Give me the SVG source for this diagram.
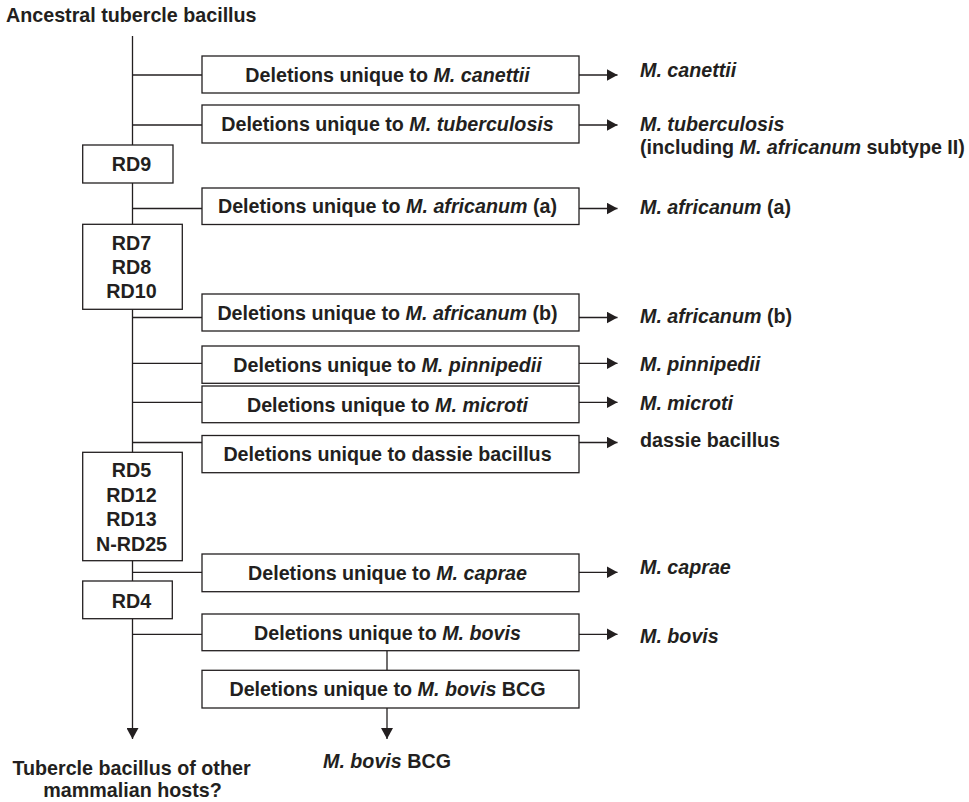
<svg xmlns="http://www.w3.org/2000/svg" width="969" height="802" viewBox="0 0 969 802">
<style>
text{font-family:"Liberation Sans",Arial,Helvetica,sans-serif;font-weight:bold;font-size:19.7px;fill:#231f20}
.c{text-anchor:middle}
.i{font-style:italic}
.box{fill:#fff;stroke:#231f20;stroke-width:1.3}
.ln{fill:none;stroke:#231f20;stroke-width:1.3}
</style>
<defs>
<marker id="ah" viewBox="0 0 11 12" refX="11" refY="6" markerWidth="11" markerHeight="12" orient="auto" markerUnits="userSpaceOnUse">
<path d="M0,0 L11,6 L0,12 z" fill="#231f20"/>
</marker>
</defs>

<text id="title" x="6" y="21.7">Ancestral tubercle bacillus</text>

<g id="connectors">
<line class="ln" x1="132.5" y1="36" x2="132.5" y2="739" marker-end="url(#ah)"/>
<line class="ln" x1="132.5" y1="75" x2="202" y2="75"/>
<line class="ln" x1="132.5" y1="125" x2="202" y2="125"/>
<line class="ln" x1="132.5" y1="208.5" x2="202" y2="208.5"/>
<line class="ln" x1="132.5" y1="317.5" x2="202" y2="317.5"/>
<line class="ln" x1="132.5" y1="363.3" x2="202" y2="363.3"/>
<line class="ln" x1="132.5" y1="402.3" x2="202" y2="402.3"/>
<line class="ln" x1="132.5" y1="442.5" x2="202" y2="442.5"/>
<line class="ln" x1="132.5" y1="572.3" x2="202" y2="572.3"/>
<line class="ln" x1="132.5" y1="634.3" x2="202" y2="634.3"/>
<line class="ln" x1="579" y1="75" x2="617.5" y2="75" marker-end="url(#ah)"/>
<line class="ln" x1="579" y1="125" x2="617.5" y2="125" marker-end="url(#ah)"/>
<line class="ln" x1="579" y1="208.5" x2="617.5" y2="208.5" marker-end="url(#ah)"/>
<line class="ln" x1="579" y1="317.5" x2="617.5" y2="317.5" marker-end="url(#ah)"/>
<line class="ln" x1="579" y1="363.3" x2="617.5" y2="363.3" marker-end="url(#ah)"/>
<line class="ln" x1="579" y1="402.3" x2="617.5" y2="402.3" marker-end="url(#ah)"/>
<line class="ln" x1="579" y1="442.5" x2="617.5" y2="442.5" marker-end="url(#ah)"/>
<line class="ln" x1="579" y1="572.3" x2="617.5" y2="572.3" marker-end="url(#ah)"/>
<line class="ln" x1="579" y1="634.3" x2="617.5" y2="634.3" marker-end="url(#ah)"/>
<line class="ln" x1="387" y1="650.7" x2="387" y2="670.3"/>
<line class="ln" x1="387" y1="708" x2="387" y2="739" marker-end="url(#ah)"/>
</g>

<g id="rd9"><rect class="box" x="82.7" y="145" width="90.3" height="38"/><text class="c" x="131.5" y="171">RD9</text></g>
<g id="rd7-8-10"><rect class="box" x="82.7" y="224.3" width="99.6" height="85"/>
<text class="c" x="131.5" y="250">RD7</text><text class="c" x="131.5" y="274">RD8</text><text class="c" x="131.5" y="298">RD10</text></g>
<g id="rd5-12-13-25"><rect class="box" x="82.7" y="452.3" width="99.6" height="108.4"/>
<text class="c" x="131.5" y="477">RD5</text><text class="c" x="131.5" y="501.5">RD12</text><text class="c" x="131.5" y="526">RD13</text><text class="c" x="131.5" y="550.5">N-RD25</text></g>
<g id="rd4"><rect class="box" x="82.7" y="581" width="89.6" height="37.7"/><text class="c" x="131.5" y="608.3">RD4</text></g>

<g id="del-canettii"><rect class="box" x="202" y="56" width="377" height="37"/><text class="c" x="387.5" y="81.5">Deletions unique to <tspan class="i">M. canettii</tspan></text></g>
<g id="del-tuberculosis"><rect class="box" x="202" y="105" width="377" height="38"/><text class="c" x="387.5" y="131">Deletions unique to <tspan class="i">M. tuberculosis</tspan></text></g>
<g id="del-africanum-a"><rect class="box" x="202" y="188" width="377" height="36.5"/><text class="c" x="387.5" y="213.3">Deletions unique to <tspan class="i">M. africanum</tspan> (a)</text></g>
<g id="del-africanum-b"><rect class="box" x="202" y="294" width="377" height="37"/><text class="c" x="387.5" y="319.5">Deletions unique to <tspan class="i">M. africanum</tspan> (b)</text></g>
<g id="del-pinnipedii"><rect class="box" x="202" y="346" width="377" height="37.3"/><text class="c" x="387.5" y="372">Deletions unique to <tspan class="i">M. pinnipedii</tspan></text></g>
<g id="del-microti"><rect class="box" x="202" y="386" width="377" height="36.7"/><text class="c" x="387.5" y="411.5">Deletions unique to <tspan class="i">M. microti</tspan></text></g>
<g id="del-dassie"><rect class="box" x="202" y="435.5" width="377" height="37.2"/><text class="c" x="387.5" y="461">Deletions unique to dassie bacillus</text></g>
<g id="del-caprae"><rect class="box" x="202" y="554" width="377" height="37.7"/><text class="c" x="387.5" y="580">Deletions unique to <tspan class="i">M. caprae</tspan></text></g>
<g id="del-bovis"><rect class="box" x="202" y="614" width="377" height="36.7"/><text class="c" x="387.5" y="639.5">Deletions unique to <tspan class="i">M. bovis</tspan></text></g>
<g id="del-bcg"><rect class="box" x="202" y="670.3" width="377" height="37.7"/><text class="c" x="387.5" y="696">Deletions unique to <tspan class="i">M. bovis</tspan> BCG</text></g>

<g id="out-canettii"><text x="640" y="77" class="i">M. canettii</text></g>
<g id="out-tuberculosis"><text x="640" y="131"><tspan class="i">M. tuberculosis</tspan></text><text x="640" y="153.5">(including <tspan class="i">M. africanum</tspan> subtype II)</text></g>
<g id="out-africanum-a"><text x="640" y="214"><tspan class="i">M. africanum</tspan> (a)</text></g>
<g id="out-africanum-b"><text x="640" y="323.3"><tspan class="i">M. africanum</tspan> (b)</text></g>
<g id="out-pinnipedii"><text x="640" y="371" class="i">M. pinnipedii</text></g>
<g id="out-microti"><text x="640" y="410" class="i">M. microti</text></g>
<g id="out-dassie"><text x="640" y="447.3">dassie bacillus</text></g>
<g id="out-caprae"><text x="640" y="573.5" class="i">M. caprae</text></g>
<g id="out-bovis"><text x="640" y="642.7" class="i">M. bovis</text></g>
<g id="out-bcg"><text class="c" x="387" y="768"><tspan class="i">M. bovis</tspan> BCG</text></g>
<g id="out-other"><text class="c" x="131.5" y="775">Tubercle bacillus of other</text><text class="c" x="132.5" y="796.7">mammalian hosts?</text></g>
</svg>
